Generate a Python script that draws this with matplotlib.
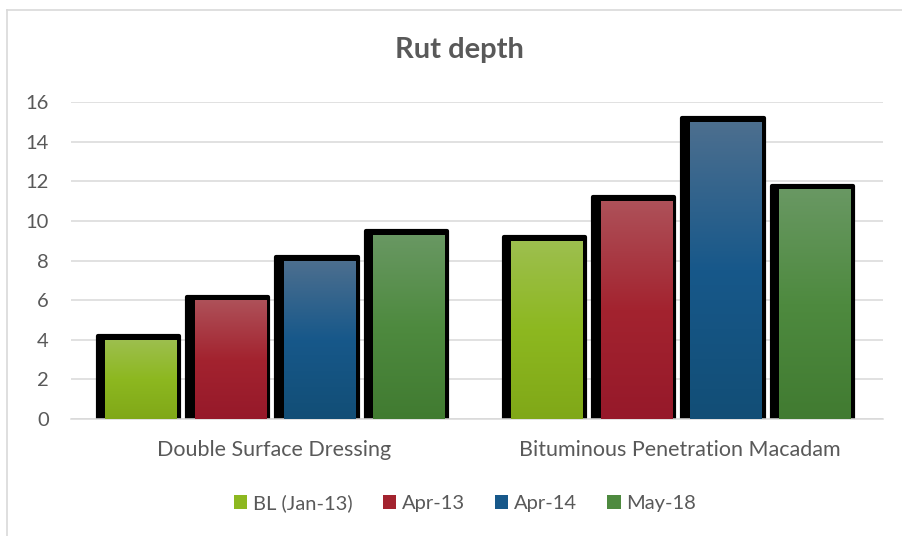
import numpy as np
import matplotlib
matplotlib.use("Agg")
import matplotlib.pyplot as plt
from matplotlib.colors import LinearSegmentedColormap
from matplotlib.lines import Line2D
from matplotlib.patches import Patch

# Rut depth per pavement type and survey
categories = ["Double Surface Dressing", "Bituminous Penetration Macadam"]
series = ["BL (Jan-13)", "Apr-13", "Apr-14", "May-18"]
bl_jan13 = [4.0, 9.0]
apr13 = [6.0, 11.0]
apr14 = [8.0, 15.0]
may18 = [9.3, 11.6]
values = [bl_jan13, apr13, apr14, may18]
y_ticks = [0, 2, 4, 6, 8, 10, 12, 14, 16]

# (top, middle, bottom) colours of the vertical gradient per series
gradients = [
    ("#9dbf4f", "#8db820", "#80a818"),
    ("#ae5159", "#a3232f", "#96192a"),
    ("#4d6f8f", "#17588a", "#124e76"),
    ("#699863", "#4e8a3f", "#417b31"),
]

TEXT = "#595959"
GRID = "#d9d9d9"
plt.rcParams["font.family"] = ["Lato", "DejaVu Sans"]

fig = plt.figure(figsize=(9.02, 5.36), dpi=100)
ax = fig.add_axes([71 / 902, 1 - 419 / 536, 812 / 902, 317 / 536])

slot = 0.22
x = np.arange(len(categories))
for i, (vals, grad) in enumerate(zip(values, gradients)):
    left = x - 2 * slot + i * slot
    # black backing with rounded corners
    ax.bar(left + 0.006, np.array(vals) + 0.18, width=0.200, align="edge",
           color="black", edgecolor="black", linewidth=3, joinstyle="round", zorder=2)
    bars = ax.bar(left + 0.0246, vals, width=0.177, align="edge",
                  color=grad[1], linewidth=0, zorder=3)
    cmap = LinearSegmentedColormap.from_list(f"g{i}", [grad[2], grad[1], grad[0]])
    grad_img = np.linspace(0, 1, 256).reshape(-1, 1)
    for b in bars:
        im = ax.imshow(grad_img, cmap=cmap, origin="lower", aspect="auto",
                       extent=(b.get_x(), b.get_x() + b.get_width(), 0, b.get_height()),
                       zorder=4)
        im.set_clip_path(b)

ax.set_xlim(-0.5, 1.5)
ax.set_ylim(0, 16)
ax.set_yticks(y_ticks)
ax.set_xticks(x)
ax.set_xticklabels(categories)
ax.tick_params(axis="y", length=0, pad=16, labelsize=14.5, labelcolor=TEXT)
ax.tick_params(axis="x", length=0, pad=15, labelsize=15.5, labelcolor=TEXT)
ax.grid(axis="y", color=GRID, linewidth=1.1, zorder=0)
ax.set_axisbelow(True)
for s in ["top", "right", "left"]:
    ax.spines[s].set_visible(False)
ax.spines["bottom"].set_color(GRID)
ax.spines["bottom"].set_linewidth(1.1)

fig.text(459 / 902, 1 - 50 / 536, "Rut depth", ha="center", va="center",
         fontsize=21, fontweight="bold", color=TEXT)

handles = [Patch(facecolor=g[1], edgecolor="none") for g in gradients]
leg = fig.legend(handles, series, loc="center", bbox_to_anchor=(465 / 902, 1 - 503 / 536),
                 ncol=4, frameon=False, fontsize=14.5, handlelength=0.65, handleheight=0.65,
                 handletextpad=0.3, columnspacing=1.5)
for t in leg.get_texts():
    t.set_color(TEXT)

# chart frame: left and top edges only
fig.add_artist(Line2D([7.5 / 902, 7.5 / 902], [0, 1 - 9.5 / 536], color=GRID, linewidth=1.2))
fig.add_artist(Line2D([7.5 / 902, 1], [1 - 9.5 / 536, 1 - 9.5 / 536], color=GRID, linewidth=1.2))

fig.savefig("out.png", dpi=100, facecolor="white")
